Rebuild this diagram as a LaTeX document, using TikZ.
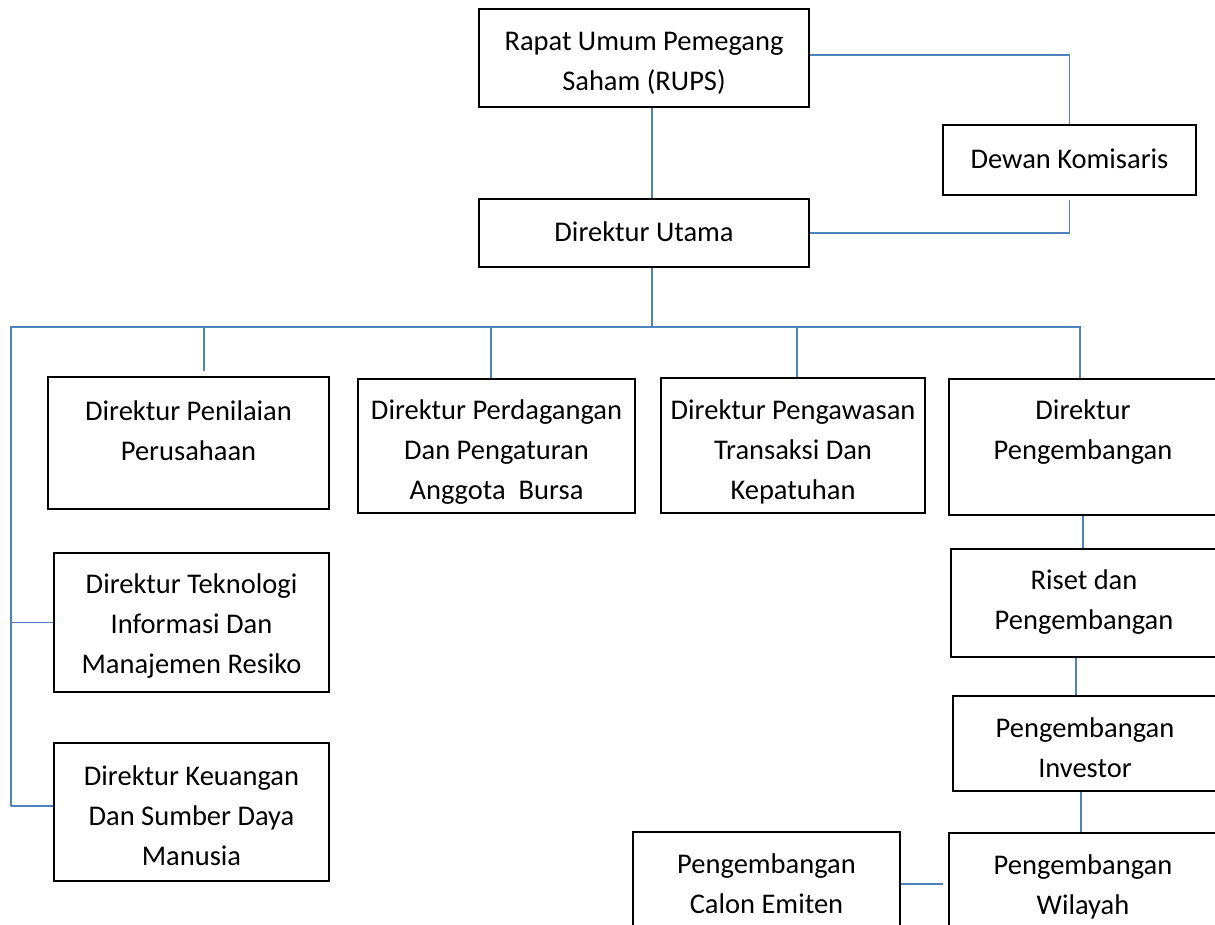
\documentclass[tikz,border=0pt]{standalone}
\usepackage{fontspec}
\setmainfont{Carlito}
\usetikzlibrary{calc}
\definecolor{linkblue}{RGB}{79,129,189}
\tikzset{
  box/.style={draw=black,line width=1.2pt,fill=white,inner sep=0pt},
  txt/.style={inner sep=0pt,align=center,font=\fontsize{28.5}{40}\selectfont},
  link/.style={draw=linkblue,line width=1.8pt}
}
\begin{document}
\begin{tikzpicture}[x=1pt,y=-1pt]
\clip (0,0) rectangle (1215,924);
\fill[white] (0,0) rectangle (1215,924);
% boxes
\node[box,minimum width=330pt,minimum height=98pt] (rups) at (644,58) {};
\node[box,minimum width=253pt,minimum height=70pt] (dk) at (1069.5,160) {};
\node[box,minimum width=330pt,minimum height=68pt] (du) at (644,233) {};
\node[box,minimum width=281pt,minimum height=132pt] (pn) at (188.5,443) {};
\node[box,minimum width=277pt,minimum height=134pt] (pd) at (496.5,446) {};
\node[box,minimum width=264pt,minimum height=135pt] (pw) at (793,445.5) {};
\node[box,minimum width=268pt,minimum height=136pt] (dp) at (1083,447) {};
\node[box,minimum width=275pt,minimum height=139pt] (tk) at (191.5,622.5) {};
\node[box,minimum width=275pt,minimum height=138pt] (ku) at (191.5,812) {};
\node[box,minimum width=266pt,minimum height=108pt] (ri) at (1084,603) {};
\node[box,minimum width=264pt,minimum height=95pt] (iv) at (1085,743.5) {};
\node[box,minimum width=268pt,minimum height=107pt] (wi) at (1083,886.5) {};
\node[box,minimum width=267pt,minimum height=108pt] (ce) at (766.5,886) {};
% texts
\node[txt] (rupsT) at (644,63) {Rapat Umum Pemegang\\Saham (RUPS)};
\node[txt] (dkT) at (1069.5,159) {Dewan Komisaris};
\node[txt] (duT) at (644,232) {Direktur Utama};
\node[txt] (pnT) at (188.5,431) {Direktur Penilaian\\Perusahaan};
\node[txt] (pdT) at (496.5,452) {Direktur Perdagangan\\Dan Pengaturan\\Anggota\ \ Bursa};
\node[txt] (pwT) at (793,452) {Direktur Pengawasan\\Transaksi Dan\\Kepatuhan};
\node[txt] (dpT) at (1083,432) {Direktur\\Pengembangan};
\node[txt] (tkT) at (191.5,626) {Direktur Teknologi\\Informasi Dan\\Manajemen Resiko};
\node[txt] (kuT) at (191.5,816) {Direktur Keuangan\\Dan Sumber Daya\\Manusia};
\node[txt] (riT) at (1084,602) {Riset dan\\Pengembangan};
\node[txt] (ivT) at (1085,748) {Pengembangan\\Investor};
\node[txt] (wiT) at (1083,887) {Pengembangan\\Wilayah};
\node[txt] (ceT) at (766.5,884) {Pengembangan\\Calon Emiten};
% bus coordinates
\coordinate (bL) at (11,327);
\coordinate (bR) at (1080,327);
\coordinate (bM) at (652,327);
\coordinate (d1) at (204,327);
\coordinate (d2) at (491,327);
\coordinate (d3) at (797,327);
\coordinate (vE) at (11,806);
% connectors
\draw[link] ($(rups.south)+(8,0)$) -- ($(du.north)+(8,0)$);
\draw[link] ($(rups.east)+(0,-3)$) -| (dk.north);
\draw[link] (du.east) -| ($(dk.south)+(0,4)$);
\draw[link] ($(du.south)+(8,0)$) -- (bM);
\draw[link] (vE) -- (bL) -- (bR) -- (bR |- dp.north);
\draw[link] (d1) -- ($(d1 |- pn.north)+(0,-5)$);
\draw[link] (d2) -- (d2 |- pd.north);
\draw[link] (d3) -- (d3 |- pw.north);
\draw[link] (tk.west) -- (tk.west -| bL);
\draw[link] ($(ku.west)+(0,-6)$) -- ($(ku.west -| bL)+(0,-6)$);
\draw[link] (dp.south) -- (dp.south |- ri.north);
\draw[link] ($(ri.south)+(-8,0)$) -- ($(ri.south |- iv.north)+(-8,0)$);
\draw[link] ($(iv.south)+(-4,0)$) -- ($(iv.south |- wi.north)+(-4,0)$);
\draw[link] ($(ce.east)+(0,-2)$) -- ($(ce.east -| wi.west)+(-5,-2)$);
\end{tikzpicture}
\end{document}
